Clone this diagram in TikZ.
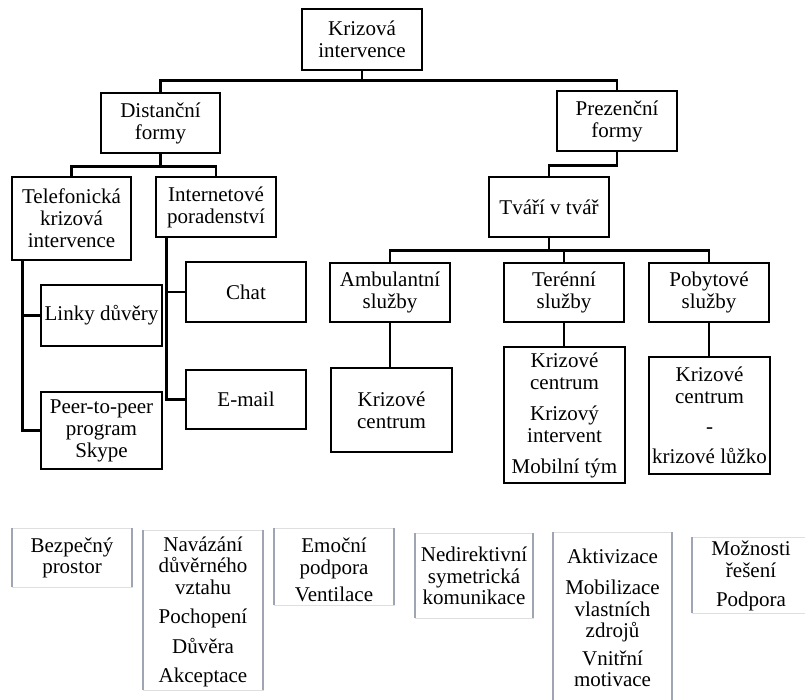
\documentclass[tikz,border=0pt]{standalone}
\usepackage{fontspec}
\setmainfont{Liberation Serif}
\usetikzlibrary{calc}
\newcommand{\fsz}{\fontsize{21}{22}\selectfont}
\newcommand{\fszb}{\fontsize{21}{21.5}\selectfont}
\definecolor{sidegray}{RGB}{160,165,180}
\tikzset{
  box/.style={draw, line width=2.8pt, align=center, inner sep=0pt, font=\fsz},
  conn/.style={line width=2.5pt},
  softtext/.style={align=center, inner sep=0pt, font=\fszb},
  softframe/.style={draw=gray!25, line width=0.8pt},
  softside/.style={draw=sidegray, line width=1.8pt}
}
\begin{document}
\begin{tikzpicture}[x=1pt,y=-1pt]
\useasboundingbox (0,0) rectangle (805,699);
% top tree
\node[box, minimum width=120pt, minimum height=61pt] (ki) at (362,39.5) {Krizová\\intervence};
\node[box, minimum width=119pt, minimum height=60pt] (df) at (160.5,123) {Distanční\\formy};
\node[box, minimum width=120pt, minimum height=60pt] (pf) at (617,121) {Prezenční\\formy};
\node[box, minimum width=119pt, minimum height=83pt] (tel) at (71.5,218.5) {Telefonická\\krizová\\intervence};
\node[box, minimum width=120pt, minimum height=60pt] (inet) at (216,207) {Internetové\\poradenství};
\node[box, minimum width=121pt, minimum height=61pt] (linky) at (101.5,315.5) {Linky důvěry};
\node[box, minimum width=121pt, minimum height=77pt] (peer) at (101.5,430.5) {Peer-to-peer\\program\\Skype};
\node[box, minimum width=120pt, minimum height=60pt] (chat) at (246,292) {Chat};
\node[box, minimum width=120pt, minimum height=59pt] (email) at (246,399.5) {E-mail};
\node[box, minimum width=120pt, minimum height=60pt] (tvar) at (549,207) {Tváří v tvář};
\node[box, minimum width=120pt, minimum height=59pt] (amb) at (390,292.5) {Ambulantní\\služby};
\node[box, minimum width=120pt, minimum height=59pt] (ter) at (564,292.5) {Terénní\\služby};
\node[box, minimum width=120pt, minimum height=59pt] (pob) at (709,292.5) {Pobytové\\služby};
\node[box, minimum width=121pt, minimum height=84pt] (kc1) at (391.5,410) {Krizové\\centrum};
\node[box, minimum width=121pt, minimum height=136pt] (kc2) at (564.5,415) {Krizové\\centrum\\[9pt]Krizový\\intervent\\[9pt]Mobilní tým};
\node[box, minimum width=121pt, minimum height=117pt] (kc3) at (709.5,415.5) {Krizové\\centrum\\[8pt]-\\[8pt]krizové lůžko};
% connectors
\draw[conn] (ki.south) -- ++(0,9) -| (df.north);
\draw[conn] (ki.south) ++(0,9) -| (pf.north);
\draw[conn] (df.south) -- ++(0,12) -| (tel.north);
\draw[conn] (df.south) ++(0,12) -| (inet.north);
\coordinate (tb) at ($(tel.south west)+(12,0)$);
\draw[conn] (tb) |- (peer.west);
\draw[conn] (tb |- linky.west) -- (linky.west);
\coordinate (ib) at ($(inet.south west)+(12,0)$);
\draw[conn] (ib) |- (email.west);
\draw[conn] (ib |- chat.west) -- (chat.west);
\draw[conn] (pf.south) -- ++(0,13) -| (tvar.north);
\draw[conn] (tvar.south) -- ++(0,12) -| (amb.north);
\draw[conn] (tvar.south) ++(0,12) -| (ter.north);
\draw[conn] (tvar.south) ++(0,12) -| (pob.north);
\draw[conn] (amb.south) -- (amb.south |- kc1.north);
\draw[conn] (ter.south) -- (ter.south |- kc2.north);
\draw[conn] (pob.south) -- (pob.south |- kc3.north);
% bottom row frames
\foreach \xa/\ya/\xb/\yb in {12/528/132/587, 143/530/263/690, 274/528/394/605, 415/533/533/618, 553/532/672/706, 692/537/812/613}{
  \draw[softframe] (\xa,\ya) rectangle (\xb,\yb);
  \draw[softside] (\xa,\ya) -- (\xa,\yb);
  \draw[softside] (\xb,\ya) -- (\xb,\yb);
}
% bottom row texts
\node[softtext] (b1) at (72,558) {Bezpečný\\prostor};
\node[softtext] (b2) at (203,612) {Navázání\\důvěrného\\vztahu\\[8pt]Pochopení\\[8pt]Důvěra\\[8pt]Akceptace};
\node[softtext] (b3) at (334,570) {Emoční\\podpora\\[6pt]Ventilace};
\node[softtext] (b4) at (474,576) {Nedirektivní\\symetrická\\komunikace};
\node[softtext] (b5) at (612.5,618) {Aktivizace\\[10pt]Mobilizace\\vlastních\\zdrojů\\[6pt]Vnitřní\\motivace};
\node[softtext] (b6) at (751,576) {Možnosti\\řešení\\[8pt]Podpora};
\end{tikzpicture}
\end{document}
